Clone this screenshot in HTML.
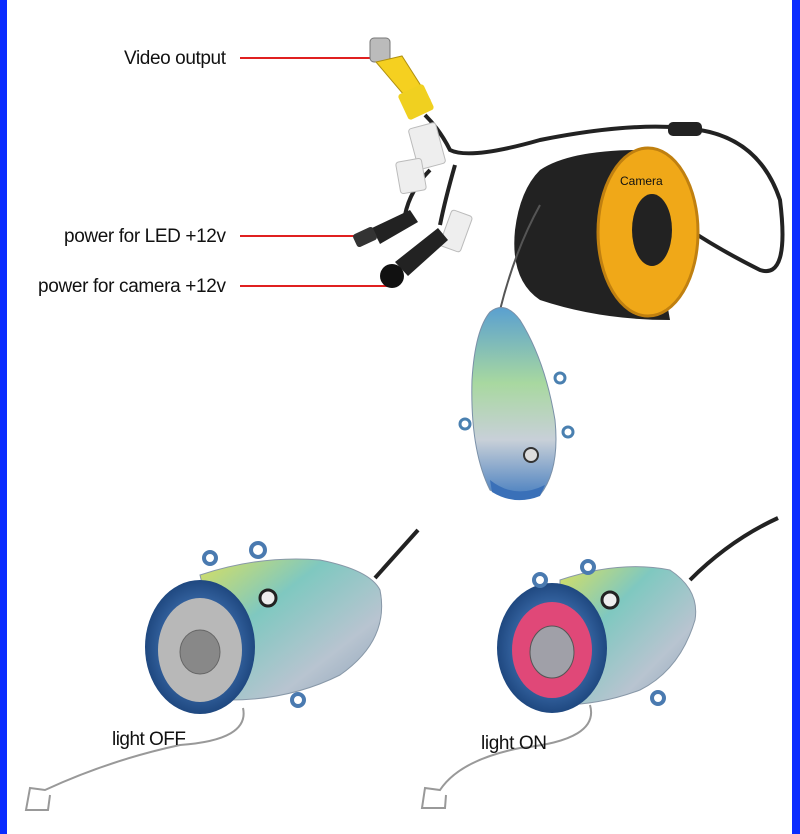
<!DOCTYPE html>
<html><head><meta charset="utf-8"><style>
html,body{margin:0;padding:0;background:#fff;}
svg{display:block}
text{font-family:"Liberation Sans",sans-serif;font-size:19px;fill:#111}
</style></head><body>
<svg width="800" height="834" viewBox="0 0 800 834" xmlns="http://www.w3.org/2000/svg">
<defs>
<linearGradient id="fish" x1="0" y1="0" x2="1" y2="1">
<stop offset="0" stop-color="#d8e060"/><stop offset="0.35" stop-color="#7fc8c0"/><stop offset="0.7" stop-color="#b8c4d0"/><stop offset="1" stop-color="#8aa0b8"/></linearGradient>
<linearGradient id="fishv" x1="0" y1="0" x2="0" y2="1">
<stop offset="0" stop-color="#5aa0d0"/><stop offset="0.4" stop-color="#a8d8a0"/><stop offset="0.7" stop-color="#c8d0d8"/><stop offset="1" stop-color="#4a80c0"/></linearGradient>
<radialGradient id="ring"><stop offset="0.6" stop-color="#3a6aa8"/><stop offset="1" stop-color="#1f4880"/></radialGradient>
</defs>
<rect x="0" y="0" width="7" height="834" fill="#0a2cff"/>
<rect x="792" y="0" width="8" height="834" fill="#0a2cff"/>

<!-- labels -->
<text x="124" y="64" transform="scale(1 1)" textLength="102">Video output</text>
<line x1="240" y1="58" x2="378" y2="58" stroke="#e02020" stroke-width="2"/>
<text x="64" y="242" textLength="162">power for LED +12v</text>
<line x1="240" y1="236" x2="362" y2="236" stroke="#e02020" stroke-width="2"/>
<text x="38" y="292" textLength="188">power for camera +12v</text>
<line x1="240" y1="286" x2="390" y2="286" stroke="#e02020" stroke-width="2"/>

<!-- RCA plug -->
<rect x="370" y="38" width="20" height="24" rx="4" fill="#bbb" stroke="#777"/>
<path d="M376 62 L402 56 L430 100 L415 108 Z" fill="#f5d020" stroke="#b09010"/>
<rect x="402" y="88" width="28" height="28" rx="3" fill="#f0d020" transform="rotate(-25 416 102)"/>
<!-- cables -->
<path d="M425 115 Q440 130 450 150 Q470 160 540 140 Q640 120 700 130 Q760 140 780 200 Q790 280 760 270 Q720 250 690 230" fill="none" stroke="#222" stroke-width="4"/>
<path d="M430 170 Q410 190 405 215" fill="none" stroke="#222" stroke-width="4"/>
<path d="M455 165 Q445 200 440 225" fill="none" stroke="#222" stroke-width="4"/>
<rect x="413" y="125" width="28" height="42" rx="3" fill="#eee" stroke="#bbb" transform="rotate(-15 427 146)"/>
<rect x="398" y="160" width="26" height="32" rx="3" fill="#eee" stroke="#bbb" transform="rotate(-10 411 176)"/>
<rect x="445" y="212" width="22" height="38" rx="3" fill="#eee" stroke="#bbb" transform="rotate(20 456 231)"/>
<rect x="668" y="122" width="34" height="14" rx="5" fill="#222"/>
<!-- LED plug -->
<path d="M372 228 L410 210 L418 222 L380 244 Z" fill="#222"/>
<rect x="354" y="230" width="22" height="14" rx="3" fill="#333" transform="rotate(-25 365 237)"/>
<!-- camera power -->
<path d="M395 262 L438 228 L448 240 L408 276 Z" fill="#222"/>
<ellipse cx="392" cy="276" rx="12" ry="12" fill="#111"/>

<!-- reel -->
<path d="M540 170 Q570 150 640 150 L670 320 Q600 320 540 300 Q510 280 515 230 Q520 190 540 170 Z" fill="#222"/>
<ellipse cx="648" cy="232" rx="50" ry="84" fill="#f0a818" stroke="#c08010" stroke-width="3"/>
<ellipse cx="652" cy="230" rx="20" ry="36" fill="#222"/>
<text x="620" y="185" style="font-size:12px" fill="#333">Camera</text>
<line x1="540" y1="200" x2="540" y2="200"/>
<path d="M540 205 Q515 250 500 310" fill="none" stroke="#555" stroke-width="2"/>

<!-- top fish -->
<path d="M490 312 Q505 300 520 320 Q545 360 555 420 Q560 470 540 495 Q510 500 490 490 Q470 450 472 380 Q475 330 490 312 Z" fill="url(#fishv)" stroke="#7a90a8"/>
<path d="M490 480 Q515 500 545 485 L540 496 Q515 506 492 492 Z" fill="#3a70b8"/>
<circle cx="531" cy="455" r="7" fill="#ddd" stroke="#333" stroke-width="2"/>
<circle cx="560" cy="378" r="5" fill="none" stroke="#4a80b0" stroke-width="3"/>
<circle cx="568" cy="432" r="5" fill="none" stroke="#4a80b0" stroke-width="3"/>
<circle cx="465" cy="424" r="5" fill="none" stroke="#4a80b0" stroke-width="3"/>

<!-- bottom-left camera -->
<path d="M375 578 Q400 550 418 530" fill="none" stroke="#222" stroke-width="4"/>
<path d="M200 575 Q260 555 320 560 Q370 570 380 590 Q390 640 340 675 Q290 700 230 700 Z" fill="url(#fish)" stroke="#8898a8"/>
<ellipse cx="200" cy="647" rx="55" ry="67" fill="url(#ring)"/>
<ellipse cx="200" cy="650" rx="42" ry="52" fill="#b8b8b8"/>
<ellipse cx="200" cy="652" rx="20" ry="22" fill="#888" stroke="#666"/>
<circle cx="268" cy="598" r="8" fill="#eee" stroke="#222" stroke-width="3"/>
<circle cx="258" cy="550" r="7" fill="none" stroke="#4a7ab0" stroke-width="4"/>
<circle cx="210" cy="558" r="6" fill="none" stroke="#4a7ab0" stroke-width="4"/>
<circle cx="298" cy="700" r="6" fill="none" stroke="#4a7ab0" stroke-width="4"/>
<path d="M243 708 Q250 740 180 745 Q110 760 45 790 L30 788 L26 810 L48 810 L50 795" fill="none" stroke="#999" stroke-width="2"/>
<text x="112" y="745" textLength="74">light OFF</text>

<!-- bottom-right camera -->
<path d="M690 580 Q730 540 778 518" fill="none" stroke="#222" stroke-width="4"/>
<path d="M560 580 Q620 560 670 570 Q700 590 695 620 Q680 670 640 690 Q600 705 560 705 Z" fill="url(#fish)" stroke="#8898a8"/>
<ellipse cx="552" cy="648" rx="55" ry="65" fill="url(#ring)"/>
<ellipse cx="552" cy="650" rx="40" ry="48" fill="#e04878"/>
<ellipse cx="552" cy="652" rx="22" ry="26" fill="#a0a0a8" stroke="#555"/>
<circle cx="610" cy="600" r="8" fill="#eee" stroke="#222" stroke-width="3"/>
<circle cx="588" cy="567" r="6" fill="none" stroke="#4a7ab0" stroke-width="4"/>
<circle cx="540" cy="580" r="6" fill="none" stroke="#4a7ab0" stroke-width="4"/>
<circle cx="658" cy="698" r="6" fill="none" stroke="#4a7ab0" stroke-width="4"/>
<path d="M590 705 Q600 740 520 748 Q460 760 440 790 L425 788 L422 808 L445 808 L446 795" fill="none" stroke="#999" stroke-width="2"/>
<text x="481" y="749" textLength="66">light ON</text>
</svg>
</body></html>
